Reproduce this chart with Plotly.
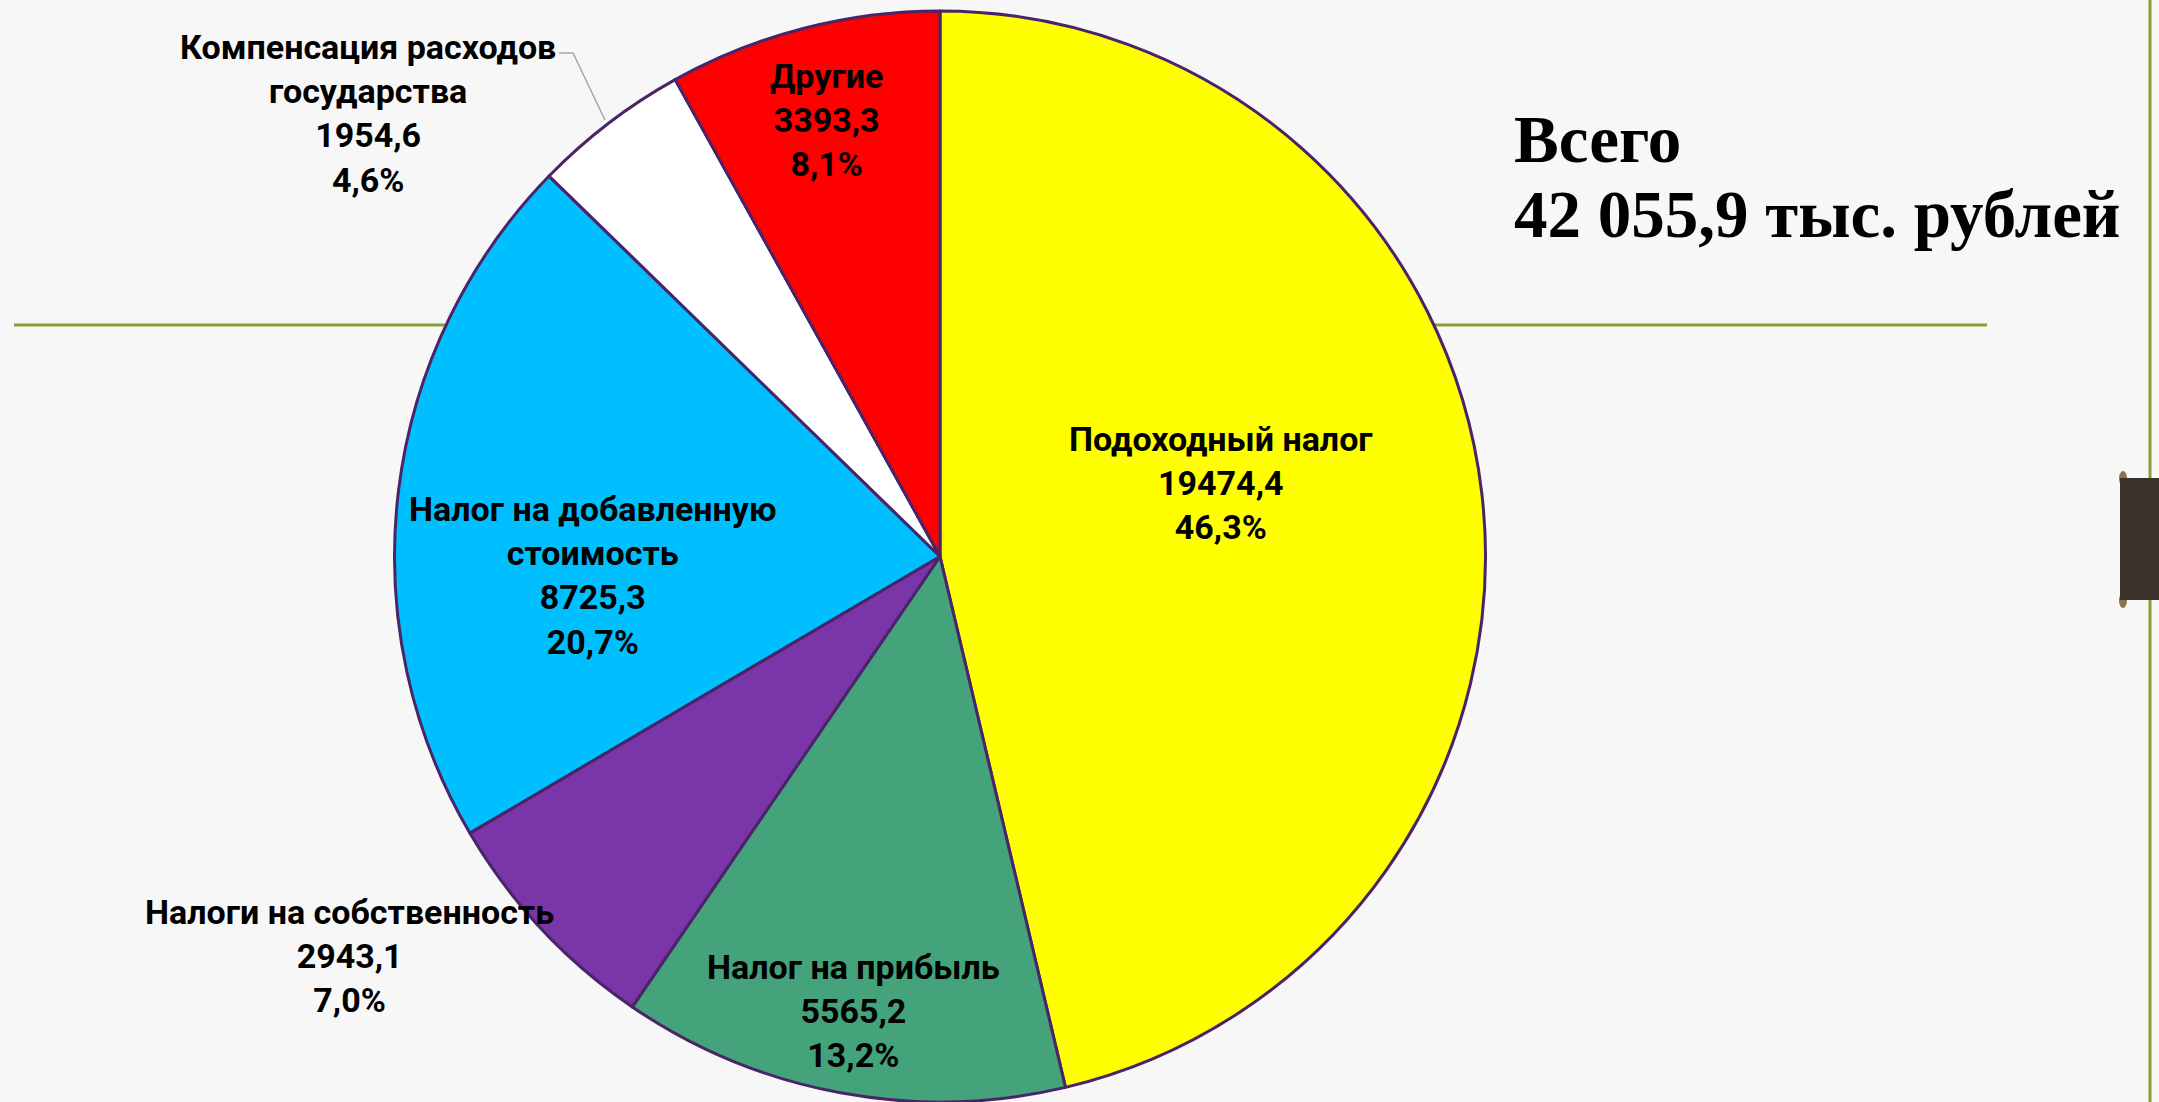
import plotly.graph_objects as go

# ---- data ----
categories = ["Подоходный налог", "Налог на прибыль", "Налоги на собственность",
              "Налог на добавленную стоимость", "Компенсация расходов государства", "Другие"]
label_lines = ["Подоходный налог", "Налог на прибыль", "Налоги на собственность",
               "Налог на добавленную<br>стоимость", "Компенсация расходов<br>государства", "Другие"]
values = [19474.4, 5565.2, 2943.1, 8725.3, 1954.6, 3393.3]
colors = ["#FFFF00", "#45A37B", "#7A35A8", "#00BFFF", "#FFFFFF", "#FF0000"]
title_lines = ["Всего", "42 055,9 тыс. рублей"]

W, H = 2159, 1102
total = sum(values)

def fmt(v):
    return f"{v:.1f}".replace(".", ",")

texts = [f"{lab}<br>{fmt(v)}<br>{fmt(v / total * 100)}%" for lab, v in zip(label_lines, values)]

# label block centres in pixels (layout only)
label_pos = {
    "Подоходный налог": (1221, 483),
    "Налог на прибыль": (853, 1011),
    "Налоги на собственность": (349, 956),
    "Налог на добавленную стоимость": (593, 575),
    "Компенсация расходов государства": (368, 113),
    "Другие": (826, 120),
}

LABEL_FONT = "Roboto, Liberation Sans, sans-serif"

fig = go.Figure()
fig.add_trace(go.Pie(
    labels=categories,
    values=values,
    textinfo="none",
    sort=False,
    direction="clockwise",
    rotation=0,
    marker=dict(colors=colors, line=dict(color="#4A2468", width=3)),
    domain=dict(x=[(940 - 546) / W, (940 + 546) / W], y=[0.0, 0.99]),
    showlegend=False,
    hoverinfo="label+value+percent",
))

annotations = []
for c, t in zip(categories, texts):
    px, py = label_pos[c]
    annotations.append(dict(x=px / W, y=1 - py / H, xref="paper", yref="paper",
                            text=t, showarrow=False, xanchor="center", yanchor="middle",
                            font=dict(family=LABEL_FONT, size=34, color="#000000", weight="bold")))
# total title (two lines)
for line, top in zip(title_lines, [100, 175]):
    annotations.append(dict(x=1512 / W, y=1 - top / H, xref="paper", yref="paper",
                            text=line, showarrow=False, xanchor="left", yanchor="top", align="left",
                            font=dict(family="Liberation Serif, Times New Roman, serif", size=67,
                                      color="#000000", weight="bold")))

shapes = [
    # olive horizontal rule behind pie
    dict(type="line", xref="paper", yref="paper", x0=14 / W, x1=1987 / W,
         y0=1 - 325 / H, y1=1 - 325 / H, line=dict(color="#8E9E36", width=3), layer="below"),
    # right vertical rule
    dict(type="line", xref="paper", yref="paper", x0=2150 / W, x1=2150 / W,
         y0=0, y1=1, line=dict(color="#8E9E36", width=3), layer="below"),
    # small knobs of the tab
    dict(type="circle", xref="paper", yref="paper", x0=2119 / W, x1=2127 / W,
         y0=1 - 486 / H, y1=1 - 471 / H, fillcolor="#8C7449", line=dict(width=0), layer="above"),
    dict(type="circle", xref="paper", yref="paper", x0=2119 / W, x1=2127 / W,
         y0=1 - 608 / H, y1=1 - 593 / H, fillcolor="#8C7449", line=dict(width=0), layer="above"),
    # dark tab at right edge
    dict(type="rect", xref="paper", yref="paper", x0=2120 / W, x1=1.0,
         y0=1 - 600 / H, y1=1 - 478 / H, fillcolor="#3A3128", line=dict(width=0), layer="above"),
    # leader line for Компенсация label
    dict(type="path", xref="paper", yref="paper",
         path=f"M {559 / W} {1 - 53 / H} L {573 / W} {1 - 53 / H} L {605 / W} {1 - 120 / H}",
         line=dict(color="#A6A6A6", width=1.5), layer="above"),
]

fig.update_layout(
    width=W, height=H,
    margin=dict(l=0, r=0, t=0, b=0),
    paper_bgcolor="#F7F7F7",
    plot_bgcolor="#F7F7F7",
    annotations=annotations,
    shapes=shapes,
)

fig.write_html("out.html", config={"displayModeBar": False},
               post_script="document.body.style.margin='0';document.body.style.overflow='hidden';")
